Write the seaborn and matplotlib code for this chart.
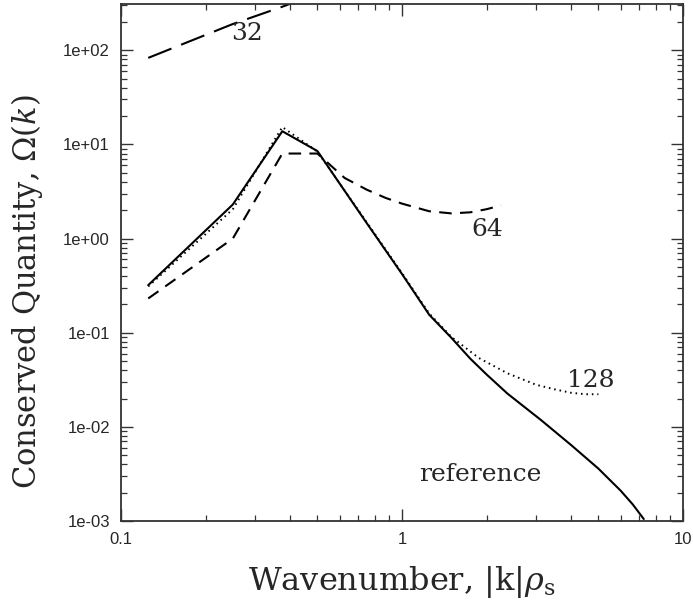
import numpy as np
import pandas as pd
import matplotlib
matplotlib.use("Agg")
import matplotlib.pyplot as plt
import seaborn as sns

# ---- data ----
k_ref = [0.125, 0.25, 0.375, 0.5, 0.75, 1.0, 1.25, 1.5, 1.75, 2.0, 2.375, 3.125, 4.0, 5.0, 6.0, 6.625, 7.25]
om_ref = [0.32, 2.3, 13.8, 8.5, 1.45, 0.42, 0.155, 0.088, 0.053, 0.036, 0.0225, 0.0118, 0.0064, 0.0036, 0.0021, 0.0015, 0.00105]

k_128 = [0.125, 0.25, 0.375, 0.5, 0.75, 1.0, 1.25, 1.5, 1.875, 2.375, 3.0, 3.5, 4.0, 4.5, 5.0]
om_128 = [0.31, 2.05, 15.3, 8.4, 1.48, 0.43, 0.16, 0.09, 0.054, 0.037, 0.028, 0.025, 0.023, 0.0222, 0.0222]

k_64 = [0.125, 0.25, 0.375, 0.5, 0.625, 0.75, 0.875, 1.0, 1.25, 1.5, 1.75, 2.0, 2.25]
om_64 = [0.231, 1.0, 8.0, 8.0, 4.4, 3.3, 2.7, 2.35, 1.95, 1.85, 1.9, 2.05, 2.25]

k_32 = [0.125, 0.25, 0.375, 0.5]
om_32 = [83.0, 190.0, 290.0, 400.0]

labels = ["32", "64", "128", "reference"]
label_pos = [(0.281, 151.0), (2.01, 1.26), (4.71, 0.0314), (1.895, 0.0031)]

frames = []
for name, k, om in [("reference", k_ref, om_ref), ("128", k_128, om_128),
                    ("64", k_64, om_64), ("32", k_32, om_32)]:
    frames.append(pd.DataFrame({"k": k, "omega": om, "run": name}))
df = pd.concat(frames, ignore_index=True)

sns.set_style("ticks")
plt.rcParams["font.family"] = ["Liberation Sans", "DejaVu Sans"]
plt.rcParams["mathtext.fontset"] = "dejavuserif"

fig = plt.figure(figsize=(6.93, 6.02), dpi=100)
ax = fig.add_axes([121/693, (602-521)/602, (683-121)/693, (521-4)/602])

styles = {
    "reference": dict(linestyle="-", linewidth=1.5),
    "128": dict(linestyle=(0, (0.8, 2.0)), linewidth=1.4),
    "64": dict(linestyle=(0, (6, 4)), linewidth=1.5),
    "32": dict(linestyle=(0, (12, 5)), linewidth=1.5),
}
for name in ["reference", "128", "64", "32"]:
    sub = df[df["run"] == name]
    sns.lineplot(data=sub, x="k", y="omega", ax=ax, color="black",
                 estimator=None, sort=False, legend=False, **styles[name])

ax.set_xscale("log")
ax.set_yscale("log")
ax.set_xlim(0.1, 10)
ax.set_ylim(1e-3, 310)

ax.set_xticks([0.1, 1, 10])
ax.set_xticklabels(["0.1", "1", "10"])
yt = [1e-3, 1e-2, 1e-1, 1e0, 1e1, 1e2]
ax.set_yticks(yt)
ax.set_yticklabels(["1e-03", "1e-02", "1e-01", "1e+00", "1e+01", "1e+02"])
ax.yaxis.set_minor_locator(matplotlib.ticker.LogLocator(base=10, subs=np.arange(2, 10), numticks=20))
ax.xaxis.set_minor_locator(matplotlib.ticker.LogLocator(base=10, subs=np.arange(2, 10), numticks=20))
ax.yaxis.set_minor_formatter(matplotlib.ticker.NullFormatter())
ax.xaxis.set_minor_formatter(matplotlib.ticker.NullFormatter())

ax.tick_params(which="both", direction="in", top=True, right=True, color="#333333")
ax.tick_params(which="major", length=8.6, width=1.0, labelsize=12, pad=8)
ax.tick_params(which="minor", length=4.3, width=0.9)
for sp in ax.spines.values():
    sp.set_linewidth(1.3)
    sp.set_color("#333333")

serif = ["DejaVu Serif"]
ax.set_xlabel(r"Wavenumber, $|\mathrm{k}|\rho_{\mathrm{s}}$", fontsize=23, family=serif, labelpad=12)
ax.set_ylabel(r"Conserved Quantity, $\Omega(k)$", fontsize=22, family=serif)
ax.yaxis.set_label_coords(-0.135, 0.443)

for lab, (xx, yy) in zip(labels, label_pos):
    ax.text(xx, yy, lab, fontsize=18, family=serif, ha="center", va="center")

fig.savefig("out.png", dpi=100)
